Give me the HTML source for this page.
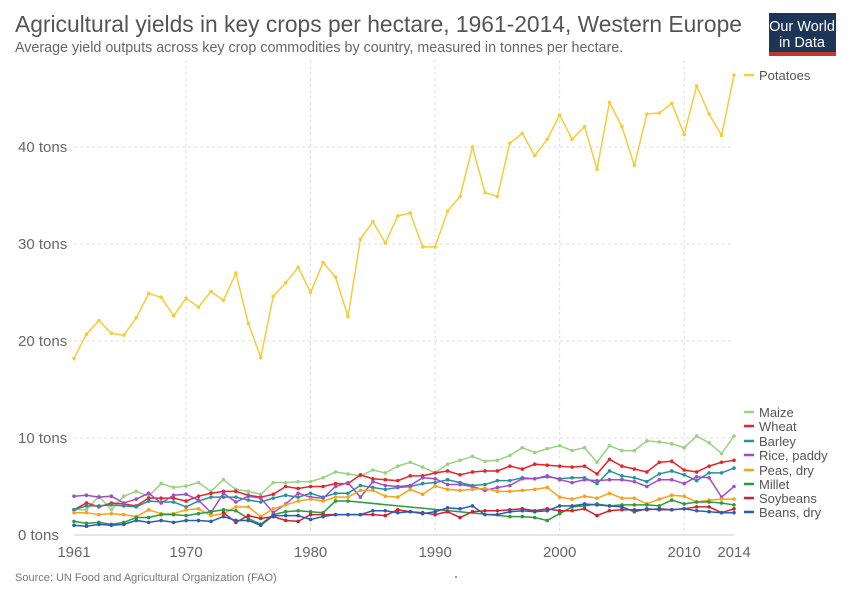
<!DOCTYPE html>
<html><head><meta charset="utf-8"><style>
body{margin:0;background:#fff;font-family:"Liberation Sans",sans-serif;}
svg text{font-family:"Liberation Sans",sans-serif;}
</style></head><body>
<svg id="chart" width="850" height="600" xmlns="http://www.w3.org/2000/svg">
<text x="15" y="32" font-size="22.8" fill="#555">Agricultural yields in key crops per hectare, 1961-2014, Western Europe</text>
<text x="15" y="52" font-size="14.3" fill="#666">Average yield outputs across key crop commodities by country, measured in tonnes per hectare.</text>
<g>
<rect x="769" y="13" width="67" height="43" fill="#1d3557"/>
<rect x="769" y="52" width="67" height="4" fill="#c0392b"/>
<text x="802" y="31" font-size="14.5" fill="#fff" text-anchor="middle">Our World</text>
<text x="802" y="47" font-size="14.5" fill="#fff" text-anchor="middle">in Data</text>
</g>
<g id="grid"></g><g id="series"></g><g id="legend"></g>
<text x="15" y="581" font-size="11" fill="#777">Source: UN Food and Agricultural Organization (FAO)</text>
<circle cx="456" cy="577" r="1" fill="#777"/>
</svg>
<script>
const years=[];for(let y=1961;y<=2014;y++)years.push(y);
const yTicks=[0,10,20,30,40];
const xTicks=[1961,1970,1980,1990,2000,2010,2014];
const potatoes=[18.2,20.7,22.1,20.8,20.6,22.4,24.9,24.5,22.6,24.4,23.5,25.1,24.2,27.0,21.8,18.3,24.6,26.0,27.6,25.0,28.1,26.6,22.5,30.5,32.3,30.1,32.9,33.2,29.7,29.7,33.4,34.9,40.0,35.3,34.9,40.4,41.4,39.1,40.8,43.3,40.8,42.1,37.7,44.6,42.1,38.1,43.4,43.5,44.5,41.3,46.3,43.4,41.2,47.4];
const maize=[2.6,2.6,4.0,2.6,4.0,4.5,4.0,5.3,4.9,5.05,5.4,4.5,5.7,4.7,4.5,4.2,5.4,5.4,5.5,5.5,5.9,6.5,6.3,6.1,6.7,6.4,7.1,7.5,7.0,6.4,7.3,7.7,8.1,7.6,7.7,8.2,9.0,8.5,8.9,9.2,8.7,9.0,7.5,9.2,8.7,8.7,9.7,9.6,9.4,9.0,10.2,9.5,8.4,10.2];
const wheat=[2.6,3.3,2.9,3.3,3.2,3.0,3.8,3.8,3.8,3.5,4.0,4.3,4.5,4.5,4.1,3.9,4.2,5.0,4.8,5.0,5.0,5.3,5.3,6.2,5.8,5.7,5.6,6.1,6.1,6.4,6.6,6.2,6.5,6.6,6.6,7.1,6.8,7.3,7.2,7.1,7.0,7.1,6.3,7.8,7.1,6.8,6.5,7.5,7.6,6.7,6.5,7.1,7.5,7.7];
const barley=[2.6,3.0,3.0,3.1,3.0,2.9,3.5,3.4,3.4,2.9,3.5,3.9,3.9,3.9,3.6,3.4,3.8,4.1,3.9,4.3,3.9,4.3,4.3,5.1,4.9,4.7,4.9,5.0,5.3,5.4,5.7,5.4,5.1,5.2,5.6,5.6,5.9,5.8,6.0,5.8,5.9,5.9,5.3,6.6,6.1,5.9,5.5,6.3,6.6,6.2,5.6,6.4,6.4,6.9];
const rice=[4.0,4.1,3.9,4.0,3.3,3.7,4.3,3.3,4.1,4.2,3.6,2.3,4.3,3.4,4.0,3.8,2.3,3.2,4.3,3.9,3.8,5.0,5.4,3.9,5.5,5.1,5.0,5.1,5.9,5.8,5.2,5.2,5.0,4.6,4.9,5.1,5.8,5.8,6.1,5.7,5.4,5.7,5.6,5.7,5.7,5.5,5.0,5.7,5.7,5.3,6.0,5.9,3.9,5.0];
const peas=[2.3,2.3,2.1,2.2,2.1,1.9,2.6,2.2,2.2,2.6,2.7,2.0,2.2,2.9,2.9,1.9,2.7,3.1,3.5,3.7,3.5,3.9,3.9,4.6,4.6,4.0,3.9,4.7,4.2,5.05,4.7,4.6,4.7,4.8,4.5,4.5,4.6,4.7,4.9,3.9,3.7,4.0,3.8,4.3,3.8,3.8,3.2,3.7,4.1,4.0,3.4,3.6,3.7,3.7];
const millet=[1.4,1.2,1.3,1.1,1.3,1.8,1.8,2.1,2.1,2.0,2.2,2.4,2.6,2.5,1.7,1.1,2.1,2.4,2.5,2.4,2.3,3.5,3.5,null,null,null,null,null,null,null,null,null,null,null,null,1.9,1.9,1.8,1.5,2.2,2.9,3.0,3.2,3.0,3.1,3.1,3.1,3.0,3.6,3.2,3.4,3.4,3.3,3.1];
const soybeans=[null,null,null,null,null,null,null,null,null,null,null,null,2.3,1.3,2.0,1.7,1.9,1.5,1.4,2.1,2.1,2.1,2.1,2.1,2.1,2.0,2.6,2.4,2.3,2.1,2.4,1.8,2.4,2.5,2.5,2.6,2.7,2.5,2.7,2.5,2.5,2.7,2.0,2.5,2.6,2.6,2.6,2.7,2.6,2.7,2.9,2.9,2.3,2.7];
const beans=[1.0,0.9,1.1,1.0,1.1,1.5,1.3,1.5,1.3,1.5,1.5,1.4,1.9,1.5,1.5,1.0,2.0,2.0,2.0,1.6,1.9,2.1,2.1,2.1,2.5,2.5,2.3,2.4,2.2,2.4,2.8,2.7,3.0,2.1,2.1,2.4,2.5,2.4,2.5,3.0,3.0,3.2,3.1,3.0,2.9,2.4,2.7,2.6,2.6,2.7,2.5,2.4,2.3,2.3];
const seriesNames=["Potatoes","Maize","Wheat","Barley","Rice, paddy","Peas, dry","Millet","Soybeans","Beans, dry"];
const seriesData=[potatoes,maize,wheat,barley,rice,peas,millet,soybeans,beans];
const colors=["#f5cc3a","#9bd184","#e3262b","#27929a","#a24cc5","#f6a21d","#2c9a3f","#cf2230","#2a5db3"];
const NS="http://www.w3.org/2000/svg";
const x0=74,x1=734,yBase=535,pxPerTon=9.7;
const X=y=>x0+(y-1961)*(x1-x0)/(2014-1961);
const Y=v=>yBase-v*pxPerTon;
function mk(t,a,p){const e=document.createElementNS(NS,t);for(const k in a)e.setAttribute(k,a[k]);p.appendChild(e);return e;}
const grid=document.getElementById('grid');
yTicks.forEach(v=>{
  const l=mk('line',{x1:x0,x2:x1,y1:Y(v),y2:Y(v),stroke:v===0?'#ccc':'#ddd','stroke-dasharray':v===0?'':'3,3'},grid);
  
  
  const t=mk('text',{x:18,y:Y(v)+5,'font-size':15,fill:'#666'},grid);t.textContent=v+' tons';
  
  
});
xTicks.forEach(yr=>{
  if(yr!==1961&&yr!==2014){const l=mk('line',{x1:X(yr),x2:X(yr),y1:60,y2:yBase,stroke:'#ddd','stroke-dasharray':'3,3'},grid);
  
  }
  const t=mk('text',{x:X(yr),y:557,'font-size':15,fill:'#666','text-anchor':'middle'},grid);t.textContent=yr;
  
  
});
const sg=document.getElementById('series');
seriesData.forEach((arr,i)=>{
  const g=mk('g',{},sg);
  
  
  const pts=[];
  arr.forEach((v,j)=>{if(v!==null)pts.push([X(years[j]),Y(v)]);});
  mk('polyline',{points:pts.map(p=>p.join(',')).join(' '),fill:'none',stroke:colors[i],'stroke-width':1.5},g);
  pts.forEach(p=>{const c=mk('circle',{cx:p[0],cy:p[1],r:1.8,fill:colors[i]},g);
    
    });
});
const lg=document.getElementById('legend');
const legendY=[75,412,426,441,455,470,484,498,512];
seriesNames.forEach((n,i)=>{
  const g=mk('g',{},lg);
  
  
  mk('line',{x1:744,x2:754,y1:legendY[i],y2:legendY[i],stroke:colors[i],'stroke-width':2.5},g);
  const t=mk('text',{x:759,y:legendY[i]+5,'font-size':13,fill:'#555'},g);t.textContent=n;
});
</script>
</body></html>
